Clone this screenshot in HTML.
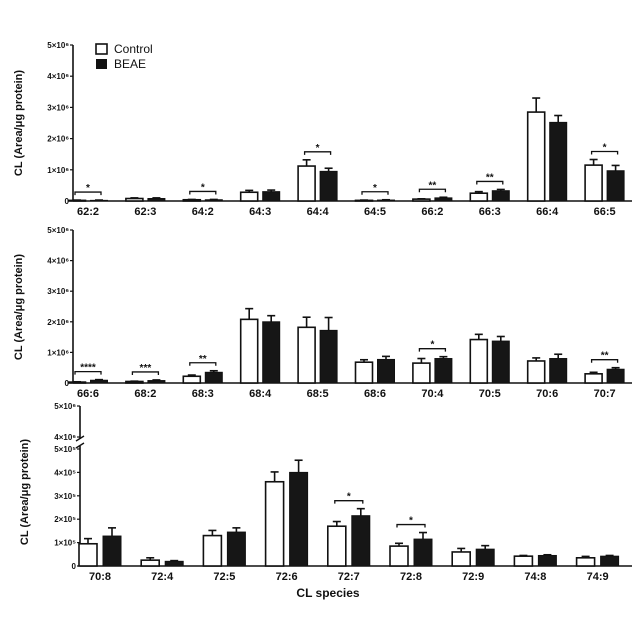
<!DOCTYPE html>
<html><head><meta charset="utf-8">
<style>
html,body{margin:0;padding:0;background:#fff;}
svg{display:block;font-family:"Liberation Sans",Arial,sans-serif;}
</style></head>
<body>
<svg id="chart" width="640" height="640" viewBox="0 0 640 640">
  <rect width="640" height="640" fill="#fff"/>
  <g>
    <rect x="96" y="44" width="11" height="10" fill="#fff" stroke="#111" stroke-width="1.6"/>
    <text x="114" y="53" font-size="12" fill="#111">Control</text>
    <rect x="96" y="59" width="11" height="10" fill="#111"/>
    <text x="114" y="68" font-size="12" fill="#111">BEAE</text>
  </g>
  <text x="328" y="597" font-size="12" font-weight="bold" text-anchor="middle" fill="#111">CL species</text>
</svg>
<script>
// Panel 1 data (units of 1e6)
const cats1 = ["62:2","62:3","64:2","64:3","64:4","64:5","66:2","66:3","66:4","66:5"];
const ctrl1 = [0.02,0.08,0.04,0.28,1.12,0.02,0.06,0.25,2.85,1.15];
const beae1 = [0.02,0.08,0.04,0.30,0.95,0.03,0.10,0.33,2.52,0.97];
const ctrlErr1 = [0.01,0.02,0.01,0.06,0.20,0.01,0.01,0.05,0.45,0.18];
const beaeErr1 = [0.01,0.02,0.01,0.05,0.10,0.01,0.02,0.04,0.22,0.17];
const sig1 = ["*","","*","","*","*","**","**","","*"];
// Panel 2 data (units of 1e6)
const cats2 = ["66:6","68:2","68:3","68:4","68:5","68:6","70:4","70:5","70:6","70:7"];
const ctrl2 = [0.03,0.05,0.22,2.08,1.82,0.68,0.65,1.42,0.72,0.30];
const beae2 = [0.09,0.08,0.35,2.00,1.72,0.77,0.80,1.37,0.80,0.45];
const ctrlErr2 = [0.01,0.01,0.04,0.35,0.33,0.08,0.15,0.17,0.10,0.05];
const beaeErr2 = [0.02,0.02,0.05,0.20,0.42,0.10,0.06,0.15,0.14,0.05];
const sig2 = ["****","***","**","","","","*","","","**"];
// Panel 3 data (units of 1e5)
const cats3 = ["70:8","72:4","72:5","72:6","72:7","72:8","72:9","74:8","74:9"];
const ctrl3 = [0.95,0.25,1.30,3.60,1.70,0.85,0.60,0.42,0.35];
const beae3 = [1.28,0.20,1.45,4.00,2.15,1.15,0.72,0.45,0.42];
const ctrlErr3 = [0.22,0.10,0.22,0.42,0.20,0.12,0.15,0.03,0.06];
const beaeErr3 = [0.35,0.03,0.18,0.52,0.30,0.28,0.15,0.03,0.03];
const sig3 = ["","","","","*","*","","",""];
const ticks12 = ["0","1×10⁶","2×10⁶","3×10⁶","4×10⁶","5×10⁶"];
const ticks3 = ["0","1×10⁵","2×10⁵","3×10⁵","4×10⁵","5×10⁵"];

const NS = "http://www.w3.org/2000/svg";
const svg = document.getElementById("chart");
function mk(tag, attrs, parent){
  const e = document.createElementNS(NS, tag);
  for (const k in attrs) e.setAttribute(k, attrs[k]);
  (parent||svg).appendChild(e);
  return e;
}

function panel(p){
  const g = mk("g", {});
  
  
  const y = v => p.y0 - v * p.pxPerUnit;
  const x = i => p.x0 + i * p.step;
  // y axis
  const ax = mk("line", {x1:p.axX, x2:p.axX, y1:p.axTop, y2:p.y0, stroke:"#111","stroke-width":1.6}, g);
  
  
  const xa = mk("line", {x1:p.axX, x2:p.axRight, y1:p.y0, y2:p.y0, stroke:"#111","stroke-width":1.6}, g);
  
  
  p.ticks.forEach((t, k) => {
    const ty = y(k);
    mk("line", {x1:p.axX-3, x2:p.axX, y1:ty, y2:ty, stroke:"#111","stroke-width":1.2}, g);
    const tt = mk("text", {x:p.axX-4, y:ty+3, "font-size":8, "font-weight":"bold","text-anchor":"end", fill:"#111"}, g);
    tt.textContent = t;
    
    
  });
  const yt = mk("text", {x:0, y:0, "font-size":11, "font-weight":"bold","text-anchor":"middle", fill:"#111",
    transform:`translate(${p.titleX},${p.titleY}) rotate(-90)`}, g);
  yt.textContent = "CL (Area/μg protein)";
  
  
  p.cats.forEach((c, i) => {
    const cx = x(i);
    const bw = p.bw, gap = p.gap;
    const xc = cx - gap/2 - bw, xb = cx + gap/2;
    const yc = y(p.ctrl[i]), yb = y(p.beae[i]);
    const yce = y(p.ctrl[i] + p.ce[i]), ybe = y(p.beae[i] + p.be[i]);
    // error bars
    mk("line", {x1:xc+bw/2, x2:xc+bw/2, y1:yc, y2:yce, stroke:"#111","stroke-width":1.6}, g);
    mk("line", {x1:xc+bw/2-4, x2:xc+bw/2+4, y1:yce, y2:yce, stroke:"#111","stroke-width":1.6}, g);
    mk("line", {x1:xb+bw/2, x2:xb+bw/2, y1:yb, y2:ybe, stroke:"#111","stroke-width":1.6}, g);
    mk("line", {x1:xb+bw/2-4, x2:xb+bw/2+4, y1:ybe, y2:ybe, stroke:"#111","stroke-width":1.6}, g);
    const r1 = mk("rect", {x:xc, y:yc, width:bw, height:Math.max(p.y0-yc,0.5), fill:"#fff", stroke:"#111","stroke-width":1.6}, g);
    
    
    const r2 = mk("rect", {x:xb, y:yb, width:bw, height:Math.max(p.y0-yb,0.5), fill:"#161616", stroke:"#111","stroke-width":1}, g);
    
    
    const lab = mk("text", {x:cx, y:p.y0+14, "font-size":11, "font-weight":"bold","text-anchor":"middle", fill:"#111"}, g);
    lab.textContent = c;
    
    
    if (p.sig[i]) {
      const top = Math.min(yce, ybe) - 8;
      const l = xc + bw/2 - 2, r = xb + bw/2 + 2;
      const br = mk("path", {d:`M${l},${top+3} L${l},${top} L${r},${top} L${r},${top+3}`, fill:"none", stroke:"#111","stroke-width":1.3}, g);
      
      
      const st = mk("text", {x:cx, y:top-1, "font-size":10, "font-weight":"bold","text-anchor":"middle", fill:"#111"}, g);
      st.textContent = p.sig[i];
      
      
    }
  });
}

panel({name:"panel-1", cats:cats1, ctrl:ctrl1, beae:beae1, ce:ctrlErr1, be:beaeErr1, sig:sig1, ticks:ticks12,
  y0:201, pxPerUnit:31.2, axX:73, axTop:45, axRight:632, x0:88, step:57.4, bw:17, gap:5, titleX:22, titleY:123});
panel({name:"panel-2", cats:cats2, ctrl:ctrl2, beae:beae2, ce:ctrlErr2, be:beaeErr2, sig:sig2, ticks:ticks12,
  y0:383, pxPerUnit:30.6, axX:73, axTop:230, axRight:632, x0:88, step:57.4, bw:17, gap:5, titleX:22, titleY:307});

// Panel 3 with broken axis
(function(){
  const g = mk("g", {});
  
  
  const y0 = 566, ppu = 23.4, axX = 80, x0 = 100, step = 62.2, bw = 18, gap = 6;
  const y = v => y0 - v * ppu;
  const x = i => x0 + i * step;
  mk("line", {x1:axX, x2:axX, y1:406, y2:439, stroke:"#111","stroke-width":1.6}, g);
  mk("line", {x1:axX, x2:axX, y1:446, y2:y0, stroke:"#111","stroke-width":1.6}, g);
  mk("path", {d:`M${axX-4},${441} L${axX+4},${436} M${axX-4},${448} L${axX+4},${443}`, stroke:"#111","stroke-width":1.4, fill:"none"}, g);
  const xa = mk("line", {x1:axX, x2:632, y1:y0, y2:y0, stroke:"#111","stroke-width":1.6}, g);
  
  
  [["5×10⁶",406],["4×10⁶",437]].forEach(([t,ty]) => {
    mk("line", {x1:axX-3, x2:axX, y1:ty, y2:ty, stroke:"#111","stroke-width":1.2}, g);
    const tt = mk("text", {x:axX-4, y:ty+3, "font-size":8, "font-weight":"bold","text-anchor":"end", fill:"#111"}, g);
    tt.textContent = t;
    
    
  });
  ticks3.forEach((t, k) => {
    const ty = y(k);
    mk("line", {x1:axX-3, x2:axX, y1:ty, y2:ty, stroke:"#111","stroke-width":1.2}, g);
    const tt = mk("text", {x:axX-4, y:ty+3, "font-size":8, "font-weight":"bold","text-anchor":"end", fill:"#111"}, g);
    tt.textContent = t;
    
    
  });
  const yt = mk("text", {x:0, y:0, "font-size":11, "font-weight":"bold","text-anchor":"middle", fill:"#111",
    transform:`translate(28,492) rotate(-90)`}, g);
  yt.textContent = "CL (Area/μg protein)";
  
  
  cats3.forEach((c, i) => {
    const cx = x(i);
    const xc = cx - gap/2 - bw, xb = cx + gap/2;
    const yc = y(ctrl3[i]), yb = y(beae3[i]);
    const yce = y(ctrl3[i] + ctrlErr3[i]), ybe = y(beae3[i] + beaeErr3[i]);
    mk("line", {x1:xc+bw/2, x2:xc+bw/2, y1:yc, y2:yce, stroke:"#111","stroke-width":1.6}, g);
    mk("line", {x1:xc+bw/2-4, x2:xc+bw/2+4, y1:yce, y2:yce, stroke:"#111","stroke-width":1.6}, g);
    mk("line", {x1:xb+bw/2, x2:xb+bw/2, y1:yb, y2:ybe, stroke:"#111","stroke-width":1.6}, g);
    mk("line", {x1:xb+bw/2-4, x2:xb+bw/2+4, y1:ybe, y2:ybe, stroke:"#111","stroke-width":1.6}, g);
    const r1 = mk("rect", {x:xc, y:yc, width:bw, height:y0-yc, fill:"#fff", stroke:"#111","stroke-width":1.6}, g);
    
    
    const r2 = mk("rect", {x:xb, y:yb, width:bw, height:y0-yb, fill:"#161616", stroke:"#111","stroke-width":1}, g);
    
    
    const lab = mk("text", {x:cx, y:y0+14, "font-size":11, "font-weight":"bold","text-anchor":"middle", fill:"#111"}, g);
    lab.textContent = c;
    
    
    if (sig3[i]) {
      const top = Math.min(yce, ybe) - 8;
      const l = xc + bw/2 - 2, r = xb + bw/2 + 2;
      const br = mk("path", {d:`M${l},${top+3} L${l},${top} L${r},${top} L${r},${top+3}`, fill:"none", stroke:"#111","stroke-width":1.3}, g);
      
      
      const st = mk("text", {x:cx, y:top-1, "font-size":10, "font-weight":"bold","text-anchor":"middle", fill:"#111"}, g);
      st.textContent = sig3[i];
      
      
    }
  });
})();
</script>
</body></html>
